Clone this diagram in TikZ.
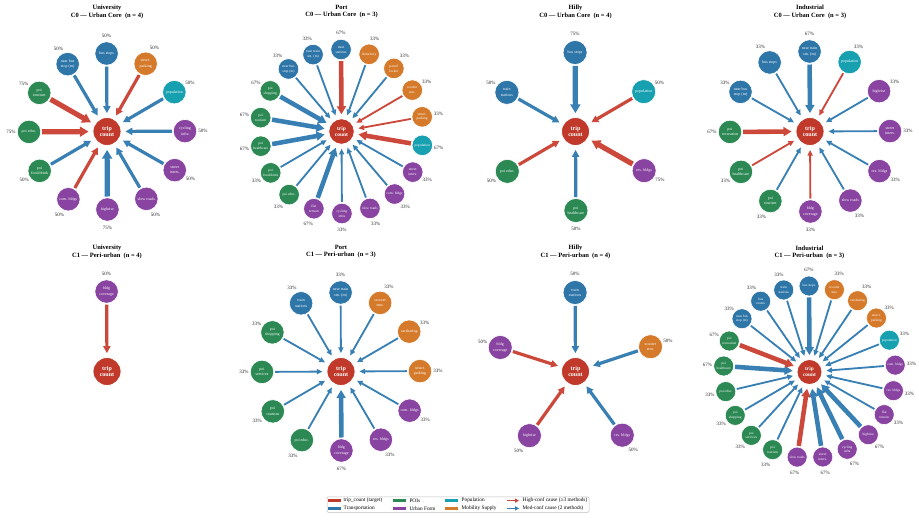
\documentclass[tikz,border=0pt]{standalone}
\usepackage{fontspec}
\setmainfont{Liberation Serif}
\usetikzlibrary{arrows.meta,calc}

\definecolor{ctgt}{RGB}{192,57,43}
\definecolor{cT}{RGB}{46,117,168}
\definecolor{cG}{RGB}{44,137,84}
\definecolor{cU}{RGB}{136,68,160}
\definecolor{cP}{RGB}{23,160,176}
\definecolor{cM}{RGB}{212,122,42}
\definecolor{chc}{RGB}{204,72,58}
\definecolor{cmc}{RGB}{56,128,180}

\tikzset{
  outer/.style={circle, fill=#1, draw=white, line width=0.6pt, text=white,
    inner sep=0pt, align=center},
  centernode/.style={circle, fill=ctgt, draw=white, line width=0.8pt, text=white,
    inner sep=0pt, align=center},
  pct/.style={text=black!85, inner sep=0pt, font=\fontsize{5}{6}\selectfont},
  ptitle/.style={align=center, inner sep=0pt, font=\fontsize{6.5}{7.2}\selectfont\bfseries},
  legtxt/.style={anchor=west, inner sep=0pt, font=\fontsize{5.3}{6}\selectfont},
}

% #1 name #2 x #3 y #4 N #5 R #6 outer size #7 centre size #8 outer font #9 title
\newcommand\panel[9]{%
  \def\pname{#1}\def\pN{#4}\def\pR{#5}\def\posz{#6}\def\pofs{#8}%
  \pgfmathsetmacro\cfs{#7*0.215}%
  \pgfmathsetmacro\cbs{\cfs*1.08}%
  \node[centernode, minimum size=#7pt, font=\fontsize{\cfs}{\cbs}\selectfont\bfseries] (#1) at (#2,#3) {trip\\count};
  \node[ptitle] (#1title) at (#2,#3-119.6) {#9};
}

% #1 index #2 label #3 category #4 percent #5 confidence
\newcommand\onode[5]{%
  \pgfmathsetmacro\ang{90-360*#1/\pN+0.3}%
  \pgfmathsetmacro\lr{\pR+\posz/2+6.3}%
  \pgfmathsetmacro\obs{\pofs*1.35}%
  \node[outer=c#3, minimum size=\posz pt, font=\fontsize{\pofs}{\obs}\selectfont] (\pname n#1) at ($(\pname)+(\ang:\pR pt)$) {#2};
  \node[pct] (\pname p#1) at ($(\pname)+(\ang:\lr pt)$) {#4\%};
  \pgfmathsetmacro\w{0.08*(#4-10)}%
  \pgfmathsetmacro\hl{4+0.9*\w}%
  \pgfmathsetmacro\hw{2.5+1.4*\w}%
  \draw[line width=\w pt, draw=c#5, fill=c#5, -{Triangle[length=\hl pt,width=\hw pt]},
        shorten >=4pt, shorten <=1pt] (\pname n#1) -- (\pname);
}

\begin{document}
\begin{tikzpicture}[x=1pt,y=-1pt]
\useasboundingbox (0,0) rectangle (919,520);

% ---------- University C0
\panel{A}{107}{131.5}{12}{78}{23.4}{28}{4}{University\\C0 — Urban Core\ \ (n = 4)}
\onode{0}{bus stops}{T}{50}{mc}
\onode{1}{struct.\\parking}{M}{50}{hc}
\onode{2}{population}{P}{50}{mc}
\onode{3}{cycling\\infra}{U}{50}{mc}
\onode{4}{street\\inters.}{U}{50}{mc}
\onode{5}{slow roads}{U}{50}{mc}
\onode{6}{highrise}{U}{75}{mc}
\onode{7}{com. bldgs}{U}{50}{hc}
\onode{8}{poi\\food/drink}{G}{50}{mc}
\onode{9}{poi educ.}{G}{75}{hc}
\onode{10}{poi\\tourism}{G}{75}{hc}
\onode{11}{near bus\\stop (m)}{T}{50}{mc}

% ---------- Port C0
\panel{B}{341.5}{131.5}{18}{82}{20.5}{25.5}{3.6}{Port\\C0 — Urban Core\ \ (n = 3)}
\onode{0}{train\\stations}{T}{67}{hc}
\onode{1}{dormitory}{M}{33}{mc}
\onode{2}{parcel\\locker}{M}{33}{mc}
\onode{3}{scooter\\stns.}{M}{33}{hc}
\onode{4}{struct.\\parking}{M}{33}{hc}
\onode{5}{population}{P}{67}{hc}
\onode{6}{street\\inters.}{U}{33}{mc}
\onode{7}{com. bldgs}{U}{33}{mc}
\onode{8}{slow roads}{U}{33}{mc}
\onode{9}{cycling\\infra}{U}{33}{mc}
\onode{10}{flat\\terrain}{U}{67}{mc}
\onode{11}{poi educ.}{G}{33}{mc}
\onode{12}{poi\\food/drink}{G}{33}{mc}
\onode{13}{poi\\healthcare}{G}{67}{mc}
\onode{14}{poi\\tourism}{G}{67}{mc}
\onode{15}{poi\\shopping}{G}{67}{mc}
\onode{16}{near bus\\stop (m)}{T}{33}{mc}
\onode{17}{near train\\stn. (m)}{T}{33}{mc}

% ---------- Hilly C0
\panel{C}{575.5}{131.5}{6}{79}{24}{28}{4}{Hilly\\C0 — Urban Core\ \ (n = 4)}
\onode{0}{bus stops}{T}{75}{mc}
\onode{1}{population}{P}{50}{hc}
\onode{2}{res. bldgs}{U}{75}{hc}
\onode{3}{poi\\healthcare}{G}{50}{mc}
\onode{4}{poi educ.}{G}{50}{hc}
\onode{5}{train\\stations}{T}{50}{mc}

% ---------- Industrial C0
\panel{D}{810}{131.5}{12}{80}{23.4}{28}{4}{Industrial\\C0 — Urban Core\ \ (n = 3)}
\onode{0}{near train\\stn. (m)}{T}{67}{mc}
\onode{1}{population}{P}{33}{hc}
\onode{2}{highrise}{U}{33}{mc}
\onode{3}{street\\inters.}{U}{33}{mc}
\onode{4}{res. bldgs}{U}{33}{mc}
\onode{5}{slow roads}{U}{33}{mc}
\onode{6}{bldg\\coverage}{U}{33}{hc}
\onode{7}{poi\\tourism}{G}{33}{mc}
\onode{8}{poi\\healthcare}{G}{33}{hc}
\onode{9}{poi\\recreation}{G}{67}{hc}
\onode{10}{near bus\\stop (m)}{T}{33}{mc}
\onode{11}{bus stops}{T}{33}{mc}

% ---------- University C1
\panel{E}{107}{371.5}{1}{80}{23.4}{28}{4}{University\\C1 — Peri-urban\ \ (n = 4)}
\onode{0}{bldg\\coverage}{U}{50}{hc}

% ---------- Port C1
\panel{F}{341}{371.5}{12}{79}{23.4}{28}{4}{Port\\C1 — Peri-urban\ \ (n = 3)}
\onode{0}{near train\\stn. (m)}{T}{33}{mc}
\onode{1}{scooter\\stns.}{M}{33}{mc}
\onode{2}{carsharing}{M}{33}{mc}
\onode{3}{struct.\\parking}{M}{33}{mc}
\onode{4}{com. bldgs}{U}{33}{mc}
\onode{5}{res. bldgs}{U}{33}{mc}
\onode{6}{bldg\\coverage}{U}{67}{mc}
\onode{7}{poi educ.}{G}{33}{mc}
\onode{8}{poi\\tourism}{G}{33}{mc}
\onode{9}{poi\\services}{G}{33}{mc}
\onode{10}{poi\\shopping}{G}{33}{mc}
\onode{11}{train\\stations}{T}{33}{mc}

% ---------- Hilly C1
\panel{G}{575.5}{371.5}{5}{79}{24}{28}{4}{Hilly\\C1 — Peri-urban\ \ (n = 4)}
\onode{0}{train\\stations}{T}{50}{mc}
\onode{1}{scooter\\stns.}{M}{50}{mc}
\onode{2}{res. bldgs}{U}{50}{mc}
\onode{3}{highrise}{U}{50}{hc}
\onode{4}{bldg\\coverage}{U}{50}{hc}

% ---------- Industrial C1
\panel{H}{809.5}{372}{21}{86}{20}{25}{3.5}{Industrial\\C1 — Peri-urban\ \ (n = 3)}
\onode{0}{bus stops}{T}{67}{mc}
\onode{1}{scooter\\stns.}{M}{33}{mc}
\onode{2}{carsharing}{M}{33}{mc}
\onode{3}{struct.\\parking}{M}{33}{mc}
\onode{4}{population}{P}{33}{mc}
\onode{5}{com. bldgs}{U}{33}{mc}
\onode{6}{res. bldgs}{U}{33}{mc}
\onode{7}{flat\\terrain}{U}{33}{mc}
\onode{8}{highrise}{U}{67}{mc}
\onode{9}{cycling\\infra}{U}{67}{mc}
\onode{10}{street\\inters.}{U}{67}{mc}
\onode{11}{slow roads}{U}{67}{hc}
\onode{12}{poi\\tourism}{G}{33}{mc}
\onode{13}{poi\\services}{G}{33}{mc}
\onode{14}{poi\\shopping}{G}{33}{mc}
\onode{15}{poi educ.}{G}{33}{mc}
\onode{16}{poi\\healthcare}{G}{67}{mc}
\onode{17}{poi\\recreation}{G}{67}{hc}
\onode{18}{near bus\\stop (m)}{T}{33}{mc}
\onode{19}{bus\\routes}{T}{33}{mc}
\onode{20}{train\\stations}{T}{33}{mc}

% ---------- Legend
\node[draw=black!25, line width=0.5pt, rounded corners=1.2pt, fill=white,
      minimum width=262pt, minimum height=15.5pt, inner sep=0pt] (leg) at (458,504.6) {};
\fill[ctgt] (327.5,498.8) rectangle (340.5,502.4);
\node[legtxt] (l1) at (343.5,500.6) {trip\_count (target)};
\fill[cT] (327.5,506.6) rectangle (340.5,510.2);
\node[legtxt] (l2) at (343.5,508.4) {Transportation};
\fill[cG] (393,498.8) rectangle (406,502.4);
\node[legtxt] (l3) at (409.3,500.6) {POIs};
\fill[cU] (393,506.6) rectangle (406,510.2);
\node[legtxt] (l4) at (409.3,508.4) {Urban Form};
\fill[cP] (445,498.8) rectangle (458,502.4);
\node[legtxt] (l5) at (461.5,500.6) {Population};
\fill[cM] (445,506.6) rectangle (458,510.2);
\node[legtxt] (l6) at (461.5,508.4) {Mobility Supply};
\coordinate (a1s) at (506.5,500.6);
\coordinate (a1e) at (519,500.6);
\coordinate (a2s) at (506.5,508.4);
\coordinate (a2e) at (519,508.4);
\draw[chc, line width=1.2pt, -{Triangle[length=4pt,width=4.2pt]}] (a1s) -- (a1e);
\draw[cmc, line width=1.2pt, -{Triangle[length=4pt,width=4.2pt]}] (a2s) -- (a2e);
\node[legtxt] (l7) at (522.5,500.6) {High-conf cause (≥3 methods)};
\node[legtxt] (l8) at (522.5,508.4) {Med-conf cause (2 methods)};
\end{tikzpicture}
\end{document}
